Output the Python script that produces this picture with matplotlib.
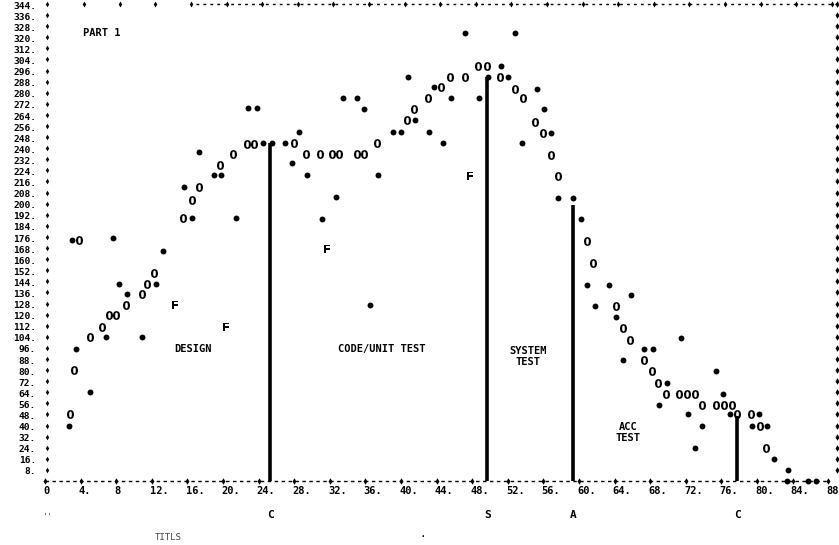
import matplotlib
matplotlib.use('Agg')
import matplotlib.pyplot as plt

# ---------------- data ----------------
o_x = [3.8, 17.3, 16.5, 15.5, 21.1, 19.7, 22.7, 23.5,
       12.2, 11.5, 10.9, 9.1, 7.2, 8.0, 6.4, 5.1, 3.3, 2.8,
       48.7, 49.7, 45.5, 47.2, 51.1, 44.5, 52.8, 43.0, 53.7, 41.5, 40.7, 55.1,
       28.0, 37.3, 29.3, 30.9, 32.2, 33.0, 35.1, 35.8,
       56.0, 56.9, 57.6, 60.9, 61.6, 64.2, 64.9, 65.7, 67.3, 68.2, 68.9,
       69.8, 71.2, 72.1, 73.0, 73.8, 75.4, 76.3, 77.2, 77.8, 79.3, 80.3, 81.0]
o_y = [174, 212, 203, 190, 236, 228, 243, 243,
       150, 142, 135, 127, 120, 120, 111, 104, 80, 48,
       299, 299, 291, 291, 291, 284, 283, 276, 276, 268, 260, 259,
       244, 244, 236, 236, 236, 236, 236, 236,
       251, 235, 220, 173, 157, 126, 110, 102, 87, 79, 71,
       63, 63, 63, 63, 55, 55, 55, 55, 48, 48, 40, 24]

s_x = [3.0, 7.6, 13.3, 15.6, 16.5, 21.5, 17.3, 19.0, 19.8, 22.8, 23.8, 24.5, 25.5,
       12.5, 8.3, 9.2, 6.9, 10.9, 3.5, 5.1, 2.7,
       47.2, 52.8, 51.2, 49.8, 52.0, 40.8, 43.7, 55.3, 45.6, 48.8, 33.5, 35.1,
       35.8, 41.6, 28.5, 39.1, 40.0, 43.1, 27.0, 44.7, 53.6, 27.8, 29.4, 37.4,
       32.7, 31.1, 36.5,
       56.1, 56.9, 57.6, 59.3, 60.2, 60.9, 63.4, 65.8, 61.8, 64.2, 71.5, 67.3,
       68.3, 64.9, 75.4, 69.9, 76.2, 69.0, 72.2, 77.0, 80.2, 73.8, 79.4, 81.1,
       73.0, 81.9, 83.5, 83.4, 85.7, 86.6]
s_y = [174, 175, 166, 212, 190, 190, 237, 221, 221, 269, 269, 244, 244,
       142, 142, 135, 104, 104, 95, 64, 40,
       323, 323, 299, 291, 291, 291, 284, 283, 276, 276, 276, 276,
       268, 260, 252, 252, 252, 252, 244, 244, 244, 229, 221, 221,
       205, 189, 127,
       268, 251, 204, 204, 189, 141, 141, 134, 126, 118, 103, 95,
       95, 87, 79, 71, 63, 55, 48, 48, 48, 40, 40, 40,
       24, 16, 8, 0, 0, 0]

f_x = [14.6, 20.3, 31.7, 47.8]
f_y = [127, 111, 167, 220]

phase_x = [25.3, 49.7, 59.3, 77.8]
phase_top = [244, 291, 199, 47]
phase_letters = ['C', 'S', 'A', 'C']

phase_names = ['DESIGN', 'CODE/UNIT TEST', 'SYSTEM\nTEST', 'ACC\nTEST']
name_x = [16.6, 37.8, 54.3, 65.5]
name_y = [95, 95, 90, 35]

y_ticks = list(range(8, 345, 8))
x_ticks = list(range(0, 89, 4))
x_tick_labels = ['0', '4.', '8', '12.', '16.', '20.', '24.', '28.', '32.', '36.',
                 '40.', '44.', '48.', '52.', '56.', '60.', '64.', '68.', '72.',
                 '76.', '80.', '84.', '88']

# ---------------- figure ----------------
MONO = 'DejaVu Sans Mono'
fig = plt.figure(figsize=(8.39, 5.45), dpi=100)
ax = fig.add_axes([0, 0, 1, 1])
ax.set_xlim(-45 / 8.9, 794 / 8.9)
ax.set_ylim(-64 / 1.3866, 481 / 1.3866)
ax.axis('off')

# left and right borders (column of plus marks)
left_col = [0.2] * len(y_ticks)
right_col = [89.0] * len(y_ticks)
ax.scatter(left_col, y_ticks, marker='d', s=8, color='black', lw=0)
ax.scatter(right_col, y_ticks, marker='d', s=11, color='black', lw=0)

# top border
ax.plot([17, 89], [344, 344], color='black', lw=1.0, ls=(0, (2, 3)))
ax.scatter([t + 0.4 for t in x_ticks[1:]], [344] * len(x_ticks[1:]),
           marker='d', s=9, color='black', lw=0)

# bottom axis
ax.plot([0, 88], [0, 0], color='black', lw=1.0, ls=(0, (2.5, 2.5)))
ax.scatter(x_ticks, [0] * len(x_ticks), marker='d', s=11, color='black', lw=0)

# y tick labels
for v in y_ticks:
    ax.text(-1.0, v - 1.5, f'{v}.', ha='right', va='center', fontsize=6.8,
            family=MONO, fontweight='bold')

# x tick labels
for v, lab in zip(x_ticks, x_tick_labels):
    ax.text(v - 0.2, -7.5, lab, ha='left', va='center', fontsize=7.5,
            family=MONO, fontweight='bold')

# phase lines
ax.vlines(phase_x, [0] * len(phase_x), phase_top, color='black', lw=2.6)
for x, lab in zip(phase_x, phase_letters):
    ax.text(x, -24.5, lab, ha='center', va='center', fontsize=8,
            family=MONO, fontweight='bold')

# phase names
for x, y, lab in zip(name_x, name_y, phase_names):
    ax.text(x, y, lab, ha='center', va='center', fontsize=7.5,
            family=MONO, fontweight='bold', linespacing=1.1)

# data series
ax.scatter(o_x, o_y, marker=r'$\mathbf{0}$', s=40, color='black', lw=0)
ax.scatter(s_x, s_y, marker='o', s=18, color='black', lw=0)
ax.scatter(f_x, f_y, marker=r'$\mathbf{F}$', s=40, color='black', lw=0)

# title and misc text
ax.text(4.3, 323, 'PART 1', ha='left', va='center', fontsize=7.5,
        family=MONO, fontweight='bold')
ax.text(13.8, -40.4, 'TITLS', ha='center', va='center', fontsize=6.5,
        family=MONO, color='#444444')
ax.text(0.3, -26, "''", ha='center', va='center', fontsize=6,
        family=MONO, color='#444444')
ax.text(42.5, -38, '.', ha='center', va='center', fontsize=8,
        family=MONO, color='black')

fig.savefig('out.png', dpi=100)
